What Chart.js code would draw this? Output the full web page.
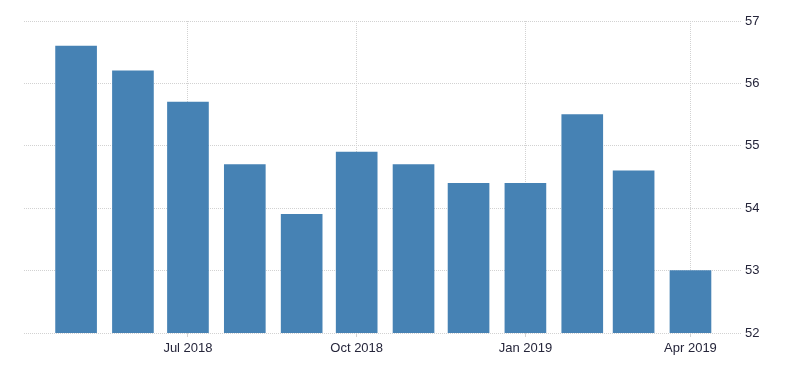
<!DOCTYPE html>
<html>
<head>
<meta charset="utf-8">
<script src="https://cdn.jsdelivr.net/npm/chart.js@4"></script>
<style>
  html, body { margin: 0; padding: 0; background: #fff; }
  #wrap { width: 800px; height: 373px; }
</style>
</head>
<body>
<div id="wrap"><canvas id="chart" width="800" height="373"></canvas></div>
<script>
const months = ['2018-05', '2018-06', '2018-07', '2018-08', '2018-09', '2018-10',
                '2018-11', '2018-12', '2019-01', '2019-02', '2019-03', '2019-04'];
const values = [56.6, 56.2, 55.7, 54.7, 53.9, 54.9, 54.7, 54.4, 54.4, 55.5, 54.6, 53.0];
const tickMonths = ['2018-07', '2018-10', '2019-01', '2019-04'];
const tickLabels = ['Jul 2018', 'Oct 2018', 'Jan 2019', 'Apr 2019'];
const yTicks = [52, 53, 54, 55, 56, 57];

// month string -> day number, so the axis spaces months by their real length
const toDay = m => {
  const [y, mo] = m.split('-').map(Number);
  return Date.UTC(y, mo - 1, 1) / 86400000;
};

const points = months.map((m, i) => ({ x: toDay(m), y: values[i] }));
const tickDays = tickMonths.map(toDay);

const gridColor = '#d2d2d2';
const textColor = '#25253a';
const font = { family: 'Liberation Sans, Arial, sans-serif', size: 13 };

new Chart(document.getElementById('chart'), {
  type: 'bar',
  data: {
    datasets: [{
      data: points,
      backgroundColor: '#4682b4',
      borderWidth: 0,
      barThickness: 41
    }]
  },
  options: {
    responsive: false,
    animation: false,
    layout: { padding: { left: 24, top: 21, right: 0, bottom: 0 } },
    plugins: { legend: { display: false }, tooltip: { enabled: false } },
    scales: {
      x: {
        type: 'linear',
        offset: false,
        min: toDay(months[0]) - 28.4,
        max: toDay(months[months.length - 1]) + 28.1,
        afterBuildTicks: scale => {
          scale.ticks = tickDays.map(v => ({ value: v }));
        },
        afterFit: scale => { scale.height = 40; },
        border: { display: false, dash: [1, 1] },
        grid: {
          offset: false,
          color: gridColor,
          tickLength: 4
        },
        ticks: {
          autoSkip: false,
          maxRotation: 0,
          color: textColor,
          font: font,
          padding: 4,
          callback: v => tickLabels[tickDays.indexOf(v)] || ''
        }
      },
      y: {
        position: 'right',
        min: 52,
        max: 57,
        afterBuildTicks: scale => {
          scale.ticks = yTicks.map(v => ({ value: v }));
        },
        afterFit: scale => { scale.width = 58; },
        border: { display: false, dash: [1, 1] },
        grid: {
          color: gridColor,
          drawTicks: false
        },
        ticks: {
          color: textColor,
          font: font,
          padding: 3
        }
      }
    }
  }
});
</script>
</body>
</html>
